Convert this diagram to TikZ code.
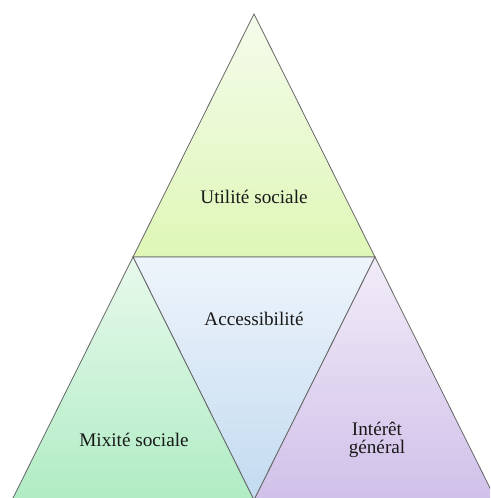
\documentclass[tikz,border=0pt]{standalone}
\usepackage{fontspec}
\setmainfont{Liberation Serif}
\begin{document}
\begin{tikzpicture}[x=1pt,y=-1pt,
  tri/.style={draw=black!60, line width=0.8pt, line join=miter},
  lbl/.style={font=\fontsize{19.2}{18.5}\selectfont, text=black!90, align=center, inner sep=0pt}]
\useasboundingbox (0,0) rectangle (490,498);
\clip (0,0) rectangle (490,498);
% vertices
\coordinate (apex) at (254,14);
\coordinate (jl) at (133,257);
\coordinate (jr) at (375,257);
\coordinate (bl) at (12,500);
\coordinate (bm) at (254,500);
\coordinate (br) at (496,500);
% top triangle
\shade[tri, top color={rgb,255:red,245;green,251;blue,236}, bottom color={rgb,255:red,222;green,247;blue,182}]
  (apex) -- (jr) -- (jl) -- cycle;
% middle inverted triangle
\shade[tri, top color={rgb,255:red,238;green,244;blue,251}, bottom color={rgb,255:red,194;green,219;blue,240}]
  (jl) -- (jr) -- (bm) -- cycle;
% left triangle
\shade[tri, top color={rgb,255:red,232;green,249;blue,236}, bottom color={rgb,255:red,176;green,236;blue,196}]
  (jl) -- (bm) -- (bl) -- cycle;
% right triangle
\shade[tri, top color={rgb,255:red,241;green,236;blue,248}, bottom color={rgb,255:red,208;green,192;blue,233}]
  (jr) -- (br) -- (bm) -- cycle;
% labels
\node[lbl] (us) at (254,197) {Utilité sociale};
\node[lbl] (acc) at (254,319) {Accessibilité};
\node[lbl] (mix) at (134,440) {Mixité sociale};
\node[lbl] (ig) at (377,440) {Intérêt\\général};
\end{tikzpicture}
\end{document}
